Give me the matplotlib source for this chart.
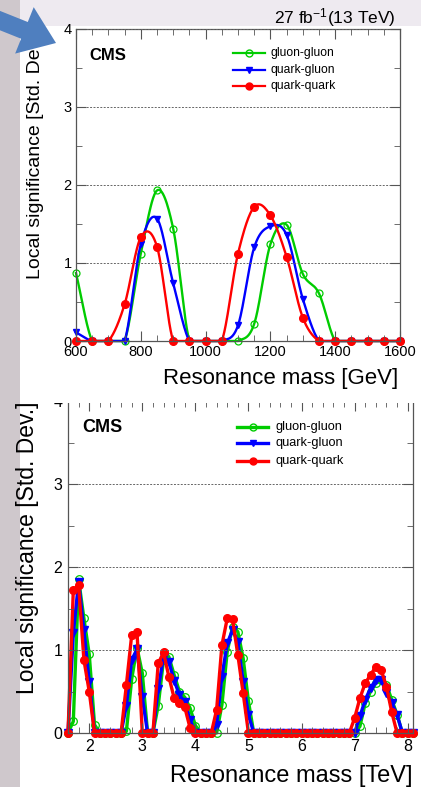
import numpy as np
import matplotlib
matplotlib.use("Agg")
import matplotlib.pyplot as plt
from matplotlib.patches import Rectangle, Polygon
from matplotlib.ticker import MultipleLocator

plt.rcParams['font.family'] = ['Liberation Sans', 'DejaVu Sans']
plt.rcParams['mathtext.fontset'] = 'custom'
plt.rcParams['mathtext.rm'] = 'Liberation Sans'
plt.rcParams['mathtext.it'] = 'Liberation Sans:italic'

# ---- top panel: 27 fb-1, low mass (GeV), 50 GeV steps ----
mass_gev = np.arange(600, 1601, 50)
gg_low = [0.87, 0, 0, 0, 1.12, 1.93, 1.44, 0, 0, 0, 0, 0.22, 1.24, 1.49, 0.86, 0.61, 0, 0, 0, 0, 0]
qg_low = [0.11, 0, 0, 0, 1.24, 1.57, 0.74, 0, 0, 0, 0.20, 1.20, 1.47, 1.36, 0.54, 0, 0, 0, 0, 0, 0]
qq_low = [0, 0, 0, 0.47, 1.33, 1.21, 0, 0, 0, 0, 1.12, 1.72, 1.61, 1.08, 0.30, 0, 0, 0, 0, 0, 0]

# ---- bottom panel: high mass (TeV), 0.1 TeV steps ----
mass_tev = np.round(np.arange(1.6, 8.101, 0.1), 1)
z5 = [0] * 5
z19 = [0] * 19
gg_high = ([0, 0.14, 1.85, 1.38, 0.95, 0.10] + z5 +
           [0.02, 0.65, 1.03, 0.72, 0, 0, 0.33, 0.88, 0.92, 0.70, 0.50, 0.43, 0.30, 0.09] +
           [0, 0, 0, 0, 0.34, 0.98, 1.28, 1.22, 0.90, 0.38] + z19 +
           [0, 0.08, 0.36, 0.50, 0.60, 0.64, 0.58, 0.40, 0.22, 0, 0, 0])
qg_high = ([0, 1.20, 1.82, 1.24, 0.62, 0] + z5 +
           [0.33, 0.88, 1.01, 0.43, 0, 0, 0.53, 0.92, 0.86, 0.63, 0.46, 0.37, 0.16, 0] +
           [0, 0, 0, 0.10, 0.68, 1.08, 1.24, 1.10, 0.62, 0.22] + z19 +
           [0, 0.20, 0.40, 0.54, 0.64, 0.64, 0.48, 0.36, 0.22, 0, 0, 0])
qq_high = ([0, 1.72, 1.78, 0.88, 0.50, 0] + z5 +
           [0.58, 1.18, 1.22, 0, 0, 0, 0.84, 0.97, 0.68, 0.42, 0.36, 0.31, 0.06, 0] +
           [0, 0, 0, 0.28, 1.06, 1.38, 1.37, 0.94, 0.48, 0] + z19 +
           [0.18, 0.42, 0.60, 0.70, 0.80, 0.76, 0.56, 0.25, 0, 0, 0, 0])

labels = ['gluon-gluon', 'quark-gluon', 'quark-quark']
colors = ['#00cc00', '#0000ff', '#ff0000']


def smooth(x, y, n=25):
    # cubic hermite through the points (catmull-rom tangents), like ROOT's "C"
    x = np.asarray(x, float)
    y = np.asarray(y, float)
    m = np.gradient(y, x)
    t = np.linspace(0, 1, n, endpoint=False)
    h00 = 2 * t**3 - 3 * t**2 + 1
    h10 = t**3 - 2 * t**2 + t
    h01 = -2 * t**3 + 3 * t**2
    h11 = t**3 - t**2
    xs, ys = [], []
    for i in range(len(x) - 1):
        h = x[i + 1] - x[i]
        xs.append(x[i] + t * h)
        ys.append(h00 * y[i] + h10 * h * m[i] + h01 * y[i + 1] + h11 * h * m[i + 1])
    xs.append([x[-1]])
    ys.append([y[-1]])
    return np.concatenate(xs), np.clip(np.concatenate(ys), 0, None)


W, H = 421, 787
fig = plt.figure(figsize=(W / 100, H / 100), dpi=100)
fig.patch.set_facecolor('white')


def box(l, t, r, b):
    return [l / W, 1 - b / H, (r - l) / W, (b - t) / H]


def style(ax, fs, pad):
    for s in ax.spines.values():
        s.set_color('#555555')
        s.set_linewidth(0.9)
    ax.set_ylim(0, 4)
    ax.yaxis.set_major_locator(MultipleLocator(1))
    ax.yaxis.set_minor_locator(MultipleLocator(0.5))
    ax.tick_params(which='both', direction='in', top=True, right=True,
                   color='#555555', labelsize=fs, pad=pad)
    ax.tick_params(which='major', length=7)
    ax.tick_params(which='minor', length=4)
    ax.grid(axis='y', which='major', color='#666666', linestyle=(0, (2, 1.5)), linewidth=0.7)
    ax.set_axisbelow(False)


def legend(ax, x0, x1, xt, ys, fs, lw, ms):
    mk = [dict(marker='o', mfc='none', mec=colors[0]),
          dict(marker='v', mfc=colors[1], mec=colors[1]),
          dict(marker='o', mfc=colors[2], mec=colors[2])]
    for i in range(3):
        ax.plot([x0, (x0 + x1) / 2, x1], [ys[i]] * 3, color=colors[i], lw=lw,
                markevery=[1], ms=ms, transform=ax.transAxes, clip_on=False, **mk[i])
        ax.text(xt, ys[i], labels[i], transform=ax.transAxes, fontsize=fs, va='center')


# ---- top panel ----
ax1 = fig.add_axes(box(76, 29, 400, 341))
style(ax1, 10.5, 3)
ax1.set_xlim(600, 1600)
ax1.xaxis.set_major_locator(MultipleLocator(200))
ax1.xaxis.set_minor_locator(MultipleLocator(50))
series = [gg_low, qg_low, qq_low]
mk1 = [dict(marker='o', mfc='none', mec=colors[0], ms=5, mew=0.9),
       dict(marker='v', mfc=colors[1], mec=colors[1], ms=5),
       dict(marker='o', mfc=colors[2], mec=colors[2], ms=5.5)]
for i in range(3):
    sx, sy = smooth(mass_gev, series[i])
    ax1.plot(sx, sy, color=colors[i], lw=1.7, clip_on=False)
    ax1.plot(mass_gev, series[i], ls='none', clip_on=False, **mk1[i])
ax1.set_xlabel('Resonance mass [GeV]', fontsize=16, loc='right')
ax1.xaxis.set_label_coords(0.995, -0.085)
ax1.set_ylabel('Local significance [Std. Dev.]', fontsize=14, loc='top')
ax1.yaxis.set_label_coords(-0.1, 1.0)
ax1.text(0.04, 0.915, 'CMS', transform=ax1.transAxes, fontsize=12, fontweight='bold', va='center')
legend(ax1, 0.485, 0.583, 0.6, [0.923, 0.869, 0.817], 8.7, 1.6, 5)
fig.text(396 / W, 1 - 23 / H, r'27 fb$^{-1}$(13 TeV)', fontsize=12.5, ha='right', va='baseline')

# ---- bottom panel ----
ax2 = fig.add_axes(box(68, 401, 413, 733))
style(ax2, 11.5, 4)
ax2.set_xlim(1.6, 8.1)
ax2.xaxis.set_major_locator(MultipleLocator(1))
ax2.xaxis.set_minor_locator(MultipleLocator(0.2))
series = [gg_high, qg_high, qq_high]
mk2 = [dict(marker='o', mfc='none', mec=colors[0], ms=5.5, mew=0.9),
       dict(marker='v', mfc=colors[1], mec=colors[1], ms=5.5),
       dict(marker='o', mfc=colors[2], mec=colors[2], ms=5.5)]
for i in range(3):
    ax2.plot(mass_tev, series[i], color=colors[i], lw=2.4, clip_on=False, **mk2[i])
ax2.set_xlabel('Resonance mass [TeV]', fontsize=17, loc='right')
ax2.xaxis.set_label_coords(0.998, -0.095)
ax2.set_ylabel('Local significance [Std. Dev.]', fontsize=16.5, loc='top')
ax2.yaxis.set_label_coords(-0.085, 1.0)
ax2.text(0.04, 0.92, 'CMS', transform=ax2.transAxes, fontsize=13, fontweight='bold', va='center')
legend(ax2, 0.49, 0.58, 0.6, [0.922, 0.873, 0.819], 9.2, 2.4, 5)

# ---- screenshot surroundings ----
fig.add_artist(Rectangle((0, 0), 20 / W, 1, transform=fig.transFigure,
                         facecolor='#cfc8cc', edgecolor='none', zorder=-1))
fig.add_artist(Rectangle((20 / W, 1 - 26 / H), 1, 26 / H, transform=fig.transFigure,
                         facecolor='#eeeaf0', edgecolor='none', zorder=-1))
fig.add_artist(Rectangle((20 / W, 1 - 402.5 / H), 1, 8.5 / H, transform=fig.transFigure,
                         facecolor='white', edgecolor='none', zorder=5))

# blue arrow pointing at the top panel
tip = np.array([56.0, 43.0])
u = np.array([55.0, 22.0])
u /= np.linalg.norm(u)
nrm = np.array([-u[1], u[0]])
base = tip - 34 * u
start = tip - 100 * u
pts = [start + 9 * nrm, base + 9 * nrm, base + 25 * nrm, tip,
       base - 25 * nrm, base - 9 * nrm, start - 9 * nrm]
pts = [(p[0] / W, 1 - p[1] / H) for p in pts]
fig.add_artist(Polygon(pts, closed=True, transform=fig.transFigure,
                       facecolor='#4f7fbf', edgecolor='none', zorder=6))

fig.savefig('out.png', dpi=100)
